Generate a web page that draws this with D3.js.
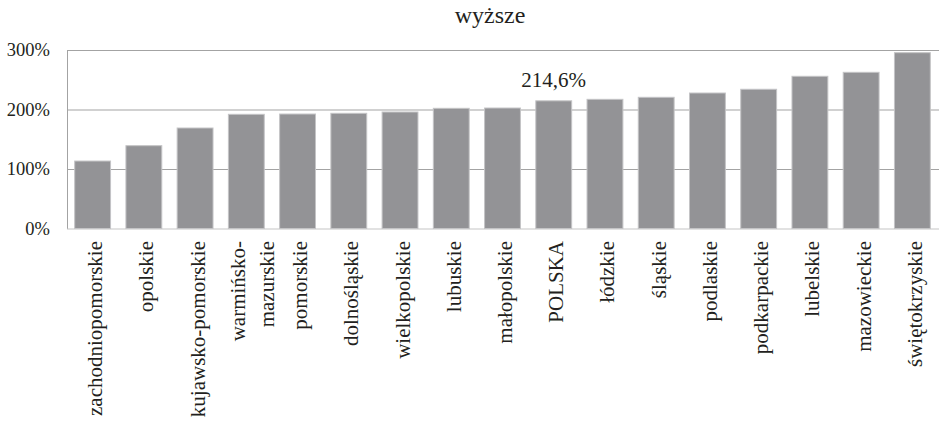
<!DOCTYPE html>
<html>
<head>
<meta charset="utf-8">
<script src="https://cdn.jsdelivr.net/npm/d3@7"></script>
<style>
    body { margin: 0; background: #fff; }
    svg { display: block; font-family: 'Times New Roman', serif; }
</style>
</head>
<body>
<svg id="chart"></svg>
<script>
// regions sorted by value, POLSKA is the national average
const regions = [
    'zachodniopomorskie', 'opolskie', 'kujawsko-pomorskie', 'warmińsko-mazurskie',
    'pomorskie', 'dolnośląskie', 'wielkopolskie', 'lubuskie', 'małopolskie', 'POLSKA',
    'łódzkie', 'śląskie', 'podlaskie', 'podkarpackie', 'lubelskie', 'mazowieckie', 'świętokrzyskie'
]
const values = [
    113.4, 139.2, 168.9, 191.9, 192.4, 193.6, 195.8, 202.0, 202.5, 214.6,
    217.1, 220.5, 227.7, 234.0, 255.8, 262.5, 295.5
]
const yTicks = [0, 100, 200, 300]
const highlight = { region: 'POLSKA', label: '214,6%' }
const title = 'wyższe'

const W = 939, H = 424
const plot = { left: 67, right: 938, top: 50, bottom: 228.5 }

const svg = d3.select('#chart').attr('width', W).attr('height', H)

const x = d3.scaleBand()
    .domain(regions)
    .range([plot.left, plot.right])
    .paddingInner(0.3)
    .paddingOuter(0.15)

const y = d3.scaleLinear()
    .domain([0, 300])
    .range([plot.bottom, plot.top])

// gridlines + y labels
const yAxis = svg.append('g')
    .attr('transform', `translate(${plot.left},0)`)
    .call(d3.axisLeft(y).tickValues(yTicks).tickSize(0).tickPadding(17)
        .tickFormat(d => d + '%'))
yAxis.attr('font-family', null)
yAxis.select('.domain').attr('stroke', '#a3a3a3').attr('stroke-width', 1)
yAxis.selectAll('text')
    .attr('font-size', 18.5)
    .attr('fill', '#231f20')
yAxis.selectAll('.tick').append('line')
    .attr('x1', 0).attr('x2', W - plot.left)
    .attr('stroke', d => d === 0 ? '#c6c6c6' : '#a3a3a3')
    .attr('stroke-width', 1.2)

// bars
svg.append('g')
    .selectAll('rect')
    .data(regions)
    .join('rect')
    .attr('x', d => x(d))
    .attr('width', x.bandwidth())
    .attr('y', (d, i) => y(values[i]))
    .attr('height', (d, i) => y(0) - y(values[i]))
    .attr('fill', '#939396')
    .attr('stroke', '#c4c4c6')
    .attr('stroke-width', 1)

// value label on the national bar
const hi = regions.indexOf(highlight.region)
svg.append('text')
    .attr('x', x(highlight.region) + x.bandwidth() / 2)
    .attr('y', y(values[hi]) - 14)
    .attr('text-anchor', 'middle')
    .attr('font-size', 21)
    .attr('fill', '#231f20')
    .text(highlight.label)

// category labels, rotated
const labels = svg.append('g')
    .selectAll('text')
    .data(regions)
    .join('text')
    .attr('transform', d => `translate(${x(d) + x.bandwidth() / 2},241) rotate(-90)`)
    .attr('text-anchor', 'end')
    .attr('font-size', 21)
    .attr('fill', '#231f20')

labels.each(function (d) {
    const t = d3.select(this)
    if (d === 'warmińsko-mazurskie') {
        t.append('tspan').attr('x', 0).attr('y', -1).text('warmińsko-')
        t.append('tspan').attr('x', 0).attr('y', 28).text('mazurskie')
    } else {
        t.attr('y', 9.5).text(d)
    }
})

// title
svg.append('text')
    .attr('x', 490)
    .attr('y', 23)
    .attr('text-anchor', 'middle')
    .attr('font-size', 24)
    .attr('fill', '#231f20')
    .text(title)
</script>
</body>
</html>
